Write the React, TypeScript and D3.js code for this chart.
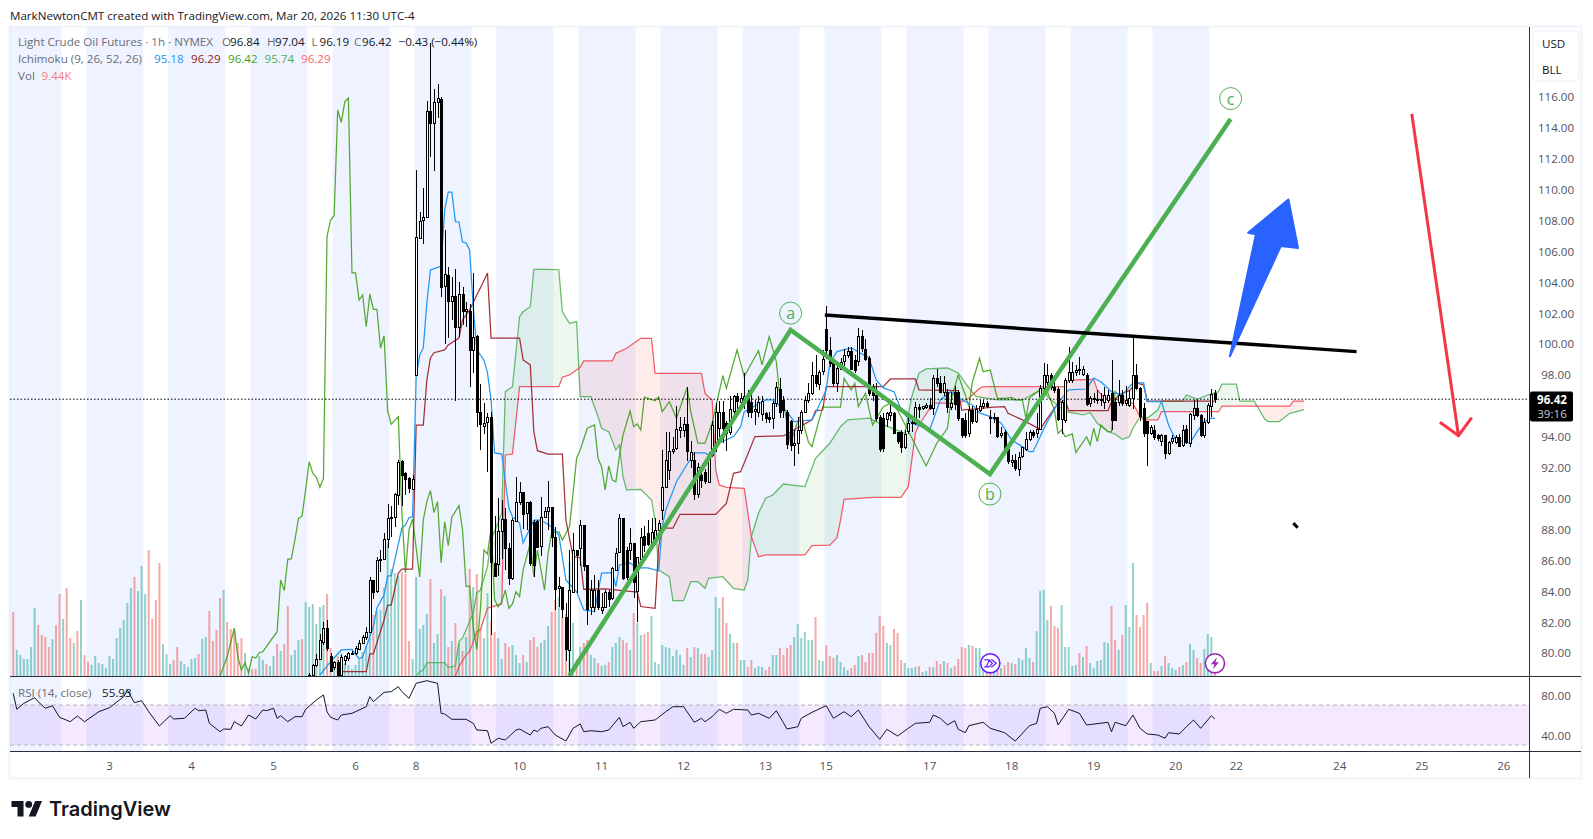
import React from "react";
import * as d3 from "d3";

// ---------- values ----------
const firstCandleBar = 83;
// [open, high, low, close] per hourly bar, starting at bar 83
const candles: number[][] = [
[78.4,78.7,78,78.55],[78.57,79.3,78.5,79.2],[79.2,79.95,79.1,79.6],[79.6,81.2,79.55,80.85],[80.7,82,80.5,81.6],[81.6,82.1,80.1,80.3],[79.8,80,78.8,78.8],[79.07,79.5,78.9,79.4],[79.4,79.55,78.4,78.5],[78.57,79.87,78.4,79.76],
[79.54,79.87,79.2,79.8],[79.63,80.08,79.5,79.97],[80,80.1,79.9,80.02],[80,80.45,79.85,80.3],[80.3,80.84,80.2,80.66],[80.66,81.16,80.6,81.05],[81.05,81.7,80.85,81.38],[81.38,84.94,81.27,84.72],[84.72,84.72,83.5,83.97],[83.97,86.23,83.86,86],
[86,86.66,85.26,86.06],[86.06,87.74,86,87.35],[87.35,89.64,86.77,88.71],[88.71,89.51,87.53,88.78],[88.78,90.33,88.17,90.27],[90.27,92.49,89.58,92.38],[92.42,92.49,89.51,91.52],[91.63,91.73,90.22,91.26],[91.3,91.37,90.33,90.65],[90.59,91.5,90.59,91.24],
[97.99,111.26,97.9,106.94],[106.9,108.56,106.9,107.98],[108.02,110.07,106.47,108.24],[108.24,115.72,108.13,115.07],[115.07,119.5,112.12,114.28],[114.28,116.48,111.2,115.63],[115.63,116.82,114.6,115.9],[115.83,116,103.06,103.66],[103.7,107.4,100,104.5],[104.46,105,100.36,102.8],
[102.8,104.35,101.55,103.1],[103.1,104.83,96.3,101.07],[101.07,104.03,100.47,103.23],[103.23,103.7,101.2,102.15],[102.1,102.73,101.1,102.24],[102.15,102.6,97.2,99.6],[99.6,104.57,98.1,100.47],[100.5,100.6,94.6,95.57],[95.57,97.4,93.13,94.79],[94.73,96.15,94.2,94.9],
[94.9,95.5,91.73,95.24],[95.24,95.57,81.16,85.84],[85.84,88.86,84.9,85],[85.73,90,85,87.89],[87.89,89.9,86.1,88.66],[88.66,89.35,85.36,86.76],[86.76,87.1,84.4,84.82],[84.82,88.7,84.7,88.6],[88.55,91.4,88.5,89.78],[89.78,91.08,89.57,90.43],
[90.43,90.43,88,89.03],[89.03,89.74,87.95,89.74],[89.74,89.8,85.6,85.8],[88.5,88.6,84.93,85.73],[88.53,88.6,86.8,86.87],[86.9,90.1,86.27,88.77],[88.77,89.46,88.7,89.18],[89.18,91.1,87.95,89.46],[89.46,89.46,86.87,87.52],[87.52,88.17,82.77,84.18],
[84.18,84.93,83,84.33],[84.28,84.28,82.23,82.88],[82.3,83.2,79.5,80.2],[80.2,86.66,78.56,84.07],[83.96,87.74,83.9,86.66],[86.66,86.66,83.85,86.33],[86.8,88.6,85.6,88.28],[88.28,88.28,85.27,85.6],[85.7,85.7,81.8,82.88],[83,84.7,82.45,84.1],
[83,85.04,82.66,84.07],[84.1,84.7,82.77,82.98],[82.8,83.85,82.55,82.98],[82.98,84.07,82.95,83.96],[83.96,84.07,82.98,83.53],[83.53,85.58,83.42,85.47],[85.4,86.76,85.36,86.48],[86.48,89,86.44,88.7],[88.7,88.7,84.7,84.82],[86.66,86.87,84.7,84.93],
[86.66,88.06,86,87.13],[87.13,87.13,83.53,84.6],[84,86.18,82,86.18],[86.13,88.07,85.9,87.53],[87.57,88.2,86.5,86.99],[87.79,88.6,86.9,87.1],[87.1,88.7,86.8,87.85],[87.2,88.7,87,87.96],[87.96,88.6,87.8,88.39],[89.25,93.14,88.6,90.76],
[90.76,94.3,90.75,92.49],[91.84,94.3,91.2,93.09],[93.1,94,92.9,93.2],[93.24,96,93.14,94.47],[94.43,95.3,93.9,94.65],[94.43,95.3,94,94.8],[94.8,97.2,92.4,93.03],[92.5,93.7,92,93.03],[92.5,93,89.9,90.33],[90.33,92.3,90,92.06],
[91.5,92,90.7,91.2],[91.7,91.9,90.9,91.1],[91.1,93,91,92.9],[92.8,95,92.7,94.75],[93.35,96.2,93,95.6],[94.54,96.3,94,95.6],[95.6,96.3,93.6,94.54],[94.87,95,93.1,94.2],[94.3,96.6,94.1,95.8],[95.6,96.7,95,96.6],
[96.6,96.8,95.8,96.27],[96.27,96.8,96,96.5],[96.27,98.1,95.8,96.6],[96.8,97,95.3,95.6],[96.27,96.9,95.2,95.6],[95.62,96.4,94.75,95.77],[95.62,96.6,95.3,96.27],[95.5,96.6,95,96.33],[95.55,95.6,94.9,95.25],[95.3,95.6,94.9,95.2],
[95.2,96.3,94.5,96.16],[96.16,97.56,95.9,97.2],[97.1,97.8,95.2,95.62],[96.37,96.6,95.2,95.73],[95.62,95.7,93.2,93.57],[95,95.1,93.1,93.46],[93.46,94.4,92.07,93.57],[93.57,95.3,92.9,94.43],[94.43,95.7,94.2,95.62],[95.62,96.6,95.5,96.37],
[96.37,97.45,96.2,96.84],[96.84,98.85,96.7,97.99],[98,99.28,97.2,97.45],[97.45,98.3,97,98.2],[98.2,99.6,98,99],[100.94,102.45,99,99.6],[99.6,100.47,98.5,98.74],[98.74,98.74,97.3,97.45],[97.45,98.85,96.9,98.42],[98.42,99.06,98.3,98.85],
[98.9,99.7,98.6,99.28],[99.28,99.8,99.1,99.54],[99.54,99.8,98.3,98.37],[98.96,99.3,98.1,98.3],[98.85,101,98.6,100.5],[100.5,100.9,99.5,99.7],[99.7,100.3,98.9,99.06],[99.06,99.2,96.6,96.8],[97.2,97.4,96.3,96.7],[96.7,97.45,95,95.18],
[95.3,95.4,93,93.24],[95.18,95.5,93,93.24],[95.1,95.6,94.65,95.5],[95.4,96.25,95,95.6],[95.55,95.6,94.2,94.28],[94.28,94.3,93.5,93.7],[94.3,94.4,92.96,93.35],[93.35,94.4,93.2,94.2],[94.4,95.3,94.2,94.9],[94.88,95.1,94.3,94.96],
[94.88,96.26,94.75,95.9],[95.94,96.1,95.2,95.83],[95.83,96,95.7,95.98],[95.9,96.2,95.8,96.05],[96.04,96.5,95.7,95.83],[95.83,98,95.4,97.8],[97.8,98.4,97.2,97.5],[97.5,97.9,96.8,96.9],[96.9,97.9,96.6,97.5],[96.9,97.1,95.5,95.9],
[95.9,96.9,95.7,96.15],[96.9,97.3,95.7,96.15],[96.9,97,95,95.2],[95.2,95.2,93.9,94.1],[95.1,95.5,93.9,94.15],[94.2,96,94,95.7],[95.7,96,94.8,95],[95,96.05,94.9,95.77],[95.7,96.4,95.6,95.98],[95.98,96.4,95.8,96.15],
[96.15,96.3,95.83,95.95],[95.25,95.7,94.2,95.2],[95.2,95.5,94.9,95.25],[95.3,95.3,93.9,94.1],[94.1,94.6,93.9,94.25],[94.3,94.4,93,93.1],[93.2,93.3,92.2,92.4],[92.4,92.8,92.05,92.5],[92.5,92.9,91.8,91.95],[91.95,93,91.45,92.7],
[92.7,93.35,92.6,93.3],[93.2,94.3,93.1,93.83],[93.83,94.4,93.7,94.28],[94.3,94.4,93.9,94.1],[94.2,95.5,93.9,94.47],[94.47,97.35,94.4,97.13],[97.13,98.75,97,98],[97.55,98.7,97,98],[98,98.1,97,97.2],[97.2,97.6,96.8,97],
[97.05,97.2,95,95.08],[95.15,96.4,94.2,96.27],[95.08,97.8,94.9,97.67],[97.67,99.78,97.5,98.2],[97.67,98.85,97.5,98.2],[98.2,98.64,97.9,98.3],[98.35,99.18,98,98.27],[98,98.6,97.9,98.35],[98,98.1,96,96.15],[96.15,96.6,95.9,96.48],
[96.45,96.8,96.15,96.5],[96.4,97,96.1,96.45],[96.4,96.8,96,96.43],[96.27,97.2,95.8,96.7],[96.4,97,96.2,96.7],[96.8,98.96,94.43,95.08],[96.27,96.5,95,95.08],[96.27,97.66,96,96.7],[96.7,97,96,96.2],[96.2,97.3,96,96.4],
[96,97,95.9,96.48],[96.48,100.43,95.8,98],[98,98.7,97,97.13],[97.13,97.2,95,95.3],[95.83,96.15,94,94.2],[95,95,92.12,94.2],[94.2,94.75,94.1,94.6],[94.43,94.75,93.8,93.95],[94.1,94.2,93.7,93.9],[93.7,94.2,93.4,94.1],
[94.1,94.1,92.53,92.92],[92.92,93.7,92.8,93.63],[93.7,94.1,93.5,93.9],[93.7,94.1,93.5,94],[94,94.2,93.3,93.4],[93.4,94.75,93.3,94.4],[94.47,94.75,93.5,93.6],[93.6,95.5,93.3,95.45],[95.4,96.4,95.1,95.83],[95.83,96.4,95.3,95.4],
[95.4,95.45,94,94.1],[94.1,95.2,93.9,94.97],[94.97,96.15,94.8,96.05],[96,97.06,95.3,96.76],[96.84,97.04,96.19,96.42],
];

const volumes: number[] = [
64,26,21,17,17,29,68,51,41,39, 29,37,51,82,57,88,38,33,45,76, 21,14,11,20,13,12,8,20,17,38, 48,56,73,88,99,85,110,82,126,57,
76,113,32,22,12,16,29,15,12,9, 17,18,22,37,39,65,35,46,78,86, 54,47,45,33,38,23,8,7,7,20, 16,12,10,20,32,25,32,70,21,26,
36,37,74,69,72,52,69,71,82,28, 14,20,23,13,11,7,11,16,24,30, 46,61,65,66,88,133,107,103,100,104, 102,35,17,99,47,51,62,97,33,42,
87,80,29,35,53,33,25,39,107,89, 102,47,38,83,55,44,38,17,33,29, 31,21,13,21,14,36,39,29,33,36, 50,64,76,79,59,62,114,53,17,29,
33,36,21,18,13,10,11,14,29,33, 39,36,33,26,63,53,41,42,44,60, 14,12,31,29,28,20,26,21,11,28, 19,29,28,22,22,19,26,79,68,79,
53,42,33,33,16,16,9,16,8,10, 9,6,9,21,21,28,21,28,31,39, 52,38,44,36,36,59,16,15,31,20, 18,21,14,9,6,8,11,20,21,14,
23,23,43,60,50,33,31,47,43,16, 13,8,8,9,10,4,5,9,9,15, 12,15,13,8,10,17,29,28,31,30, 28,28,9,6,4,3,6,8,11,14,
13,12,18,16,28,18,14,45,85,86, 56,70,50,48,71,29,29,10,11,23, 19,30,13,8,15,16,34,33,70,36, 26,41,71,49,113,61,49,61,73,13,
5,5,10,20,13,8,6,9,11,14, 32,26,18,13,27,42,39,9.44,
];
// 1 = rising bar, for the bars whose candle lies below the pane
const earlyVolumeRising = "0111111000"+"0100100101"+"0011111111"+"1111011100"+"0011100111"+"1101100001"+"0000011001"+"1011010011"+"101";

const conversionLine: [number, number][] = [[86,78.57],[89,79.43],[92,80.19],[95,80.23],[97,79.61],[98,79.74],[101,81.7],[102,82.91],[104,83.75],[105,84.98],[106,84.98],[109,88.08],[110,88.28],[111,88.75],[112,88.8],[113,97.88],[114,99.28],[115,99.74],[116,102.65],[117,104.78],[120,105.04],[121,108.67],[122,109.83],[123,109.83],[124,107.91],[125,107.89],[126,106.6],[127,106.53],[128,106.08],[129,102.41],[130,99.61],[132,98.96],[133,98.12],[134,96.4],[135,92.94],[137,92.87],[139,89.38],[140,88.82],[142,88.41],[143,87.11],[146,88.6],[148,88.6],[151,88.17],[153,87.63],[155,84.72],[158,83.96],[160,82.78],[163,82.67],[165,85.17],[168,85.19],[169,84.29],[170,85.69],[173,85.82],[175,85.5],[178,85.5],[181,85.3],[182,88.17],[183,89.25],[186,91.08],[188,91.84],[191,92.94],[194,92.94],[196,92.7],[198,93.59],[202,94],[204,94.64],[205,95.61],[211,96.37],[213,96.37],[217,95.61],[219,94.97],[224,95.08],[225,95.53],[228,97.02],[229,98.76],[231,99.5],[235,99.74],[240,99.09],[242,97.66],[244,97.15],[247,96.91],[249,95.72],[252,94.88],[257,94.43],[260,96.37],[263,96.91],[266,96.37],[269,96.05],[271,95.53],[274,95.29],[277,94.88],[280,93.78],[283,93.35],[285,93.02],[286,93.02],[288,94],[290,94.97],[293,96.18],[296,97.02],[301,97.08],[303,97.79],[305,97.55],[308,96.91],[311,96.69],[314,97.47],[317,97.47],[318,96.26],[322,96.26],[324,94.75],[326,93.78],[330,93.59],[332,94.32],[334,94.97],[336,95.2],[337,95.18]];

const baseLine: [number, number][] = [[91,78.78],[99,78.78],[100,79.93],[101,79.93],[104,82.13],[105,83.1],[106,83.1],[108,85.17],[109,85.43],[112,85.43],[113,94.75],[115,94.75],[116,97.66],[117,99.09],[118,99.43],[121,99.61],[122,99.93],[125,100.38],[126,101.55],[128,102.2],[130,103.17],[131,103.62],[133,104.59],[134,100.38],[142,100.38],[143,98.96],[145,98.64],[146,94.32],[147,93.09],[150,92.87],[154,92.87],[155,88.6],[157,86.23],[159,86.16],[160,84.12],[166,84.14],[175,83.94],[176,83],[180,82.89],[181,86.87],[182,88.07],[185,88.07],[187,88.97],[197,88.97],[200,89.68],[202,91.62],[204,91.73],[208,94],[216,94.04],[224,95.08],[225,95.68],[227,95.72],[228,97.23],[244,97.23],[246,97.73],[253,97.73],[254,97.02],[265,96.97],[266,95.72],[275,95.9],[278,95.94],[279,95.51],[283,95.08],[288,94.47],[290,95.18],[293,96.16],[295,96.37],[296,95.68],[307,95.68],[308,96.26],[311,96.82],[313,96.97],[315,97.47],[317,97.34],[318,96.3],[337,96.29]];

const laggingLine: [number, number][] = [[58,78.51],[60,79.75],[62,81.61],[63,79.75],[64,78.89],[65,79.37],[66,78.7],[67,79.75],[68,79.67],[69,80.01],[70,80.08],[74,81.37],[75,84.72],[76,84.03],[77,86.06],[78,86.1],[79,87.31],[80,88.71],[81,88.86],[82,90.55],[83,92.38],[84,91.63],[85,91.37],[86,90.72],[87,91.3],[88,106.94],[89,108.02],[90,108.3],[91,115.14],[92,114.34],[93,115.68],[94,115.9],[95,104.6],[96,104.6],[97,102.84],[98,103.17],[99,101.11],[100,103.23],[101,102.24],[102,102.24],[103,99.72],[104,100.53],[105,95.66],[106,94.8],[108,95.29],[109,89.06],[110,85.17],[111,87.96],[112,88.67],[114,84.91],[115,88.6],[116,89.79],[117,90.5],[118,89.08],[119,89.79],[120,85.84],[121,88.49],[122,86.94],[123,88.78],[125,89.53],[126,87.96],[127,84.29],[128,84.33],[129,81.7],[130,80.23],[131,82.78],[132,86.66],[133,86.4],[134,88.07],[135,83.43],[136,82.99],[137,83.31],[138,84.07],[139,82.89],[140,83.17],[141,83.96],[142,83.64],[143,85.37],[145,87.11],[146,84.93],[147,86.66],[149,84.07],[150,86.47],[151,87.76],[153,87.85],[154,87.31],[156,88.17],[157,90.33],[158,92.6],[159,93.13],[161,94.54],[163,94.75],[164,92.6],[165,92.05],[166,90.55],[167,92.1],[168,91.19],[169,91.08],[170,92.75],[171,94.1],[173,95.66],[174,94.64],[175,94.82],[176,94.43],[177,96.56],[180,96.32],[181,96.58],[182,95.61],[184,96.26],[186,95.19],[189,97.19],[190,95.61],[192,93.57],[194,93.57],[196,94.86],[199,97.94],[200,97.13],[203,99.61],[205,97.88],[206,98.31],[209,99.56],[210,98.64],[212,100.47],[214,98.85],[215,96.58],[216,96.16],[218,93.57],[220,94.97],[221,95.4],[223,93.65],[224,93.35],[226,95.08],[227,95.9],[232,95.9],[233,97.77],[235,97.02],[236,97.45],[237,95.94],[239,96.8],[241,94.75],[244,95.94],[246,96.16],[248,95.72],[256,92.1],[259,93.57],[262,94.54],[263,96.37],[265,97.99],[267,96.69],[268,95.94],[269,97.55],[271,99.07],[272,98.2],[274,98.31],[276,96.48],[278,96.48],[280,96.54],[281,96.37],[283,96.37],[284,95.19],[285,96.48],[286,96.69],[288,97.02],[290,96.91],[292,95.72],[293,94.21],[294,94.43],[295,93.99],[297,94.17],[298,92.96],[301,93.99],[302,93.46],[303,94.54],[304,93.67],[305,94.75],[307,94.32],[308,94.32],[309,96.91],[311,96.42]];

const leadA: [number, number][] = [[113,78.53],[114,78.78],[115,78.89],[116,79.37],[121,79.37],[122,79.07],[124,79.15],[125,80.73],[126,80.97],[129,82.58],[130,83.88],[131,84.07],[133,85.58],[134,87.31],[137,89.06],[138,96.91],[140,97.23],[142,101.76],[143,102.08],[145,102.41],[146,104.83],[150,104.83],[153,104.8],[154,102.08],[156,101.33],[158,101.44],[159,96.58],[162,96.58],[164,95.29],[165,94.54],[167,94.32],[169,93.13],[170,93.46],[171,91.41],[172,90.55],[176,90.59],[179,89.9],[180,88.6],[181,85.37],[184,84.93],[185,83.38],[188,83.38],[190,84.61],[192,84.61],[194,84.18],[195,84.83],[199,84.93],[202,84.18],[205,84.07],[206,84.72],[207,87.52],[209,89.04],[211,90.01],[213,90.22],[216,90.93],[222,90.76],[225,92.6],[229,93.57],[232,94.64],[234,95.08],[240,95.19],[242,94.97],[250,94.21],[252,96.58],[254,98.1],[256,98.38],[262,98.44],[265,98.12],[268,97.15],[270,96.6],[276,96.37],[283,96.37],[285,96.63],[289,97.15],[290,96.58],[295,95.61],[298,95.51],[300,95.4],[302,95.55],[304,94.86],[307,94.32],[309,94.17],[311,93.83],[313,93.99],[314,94.54],[316,95.29],[318,95.19],[321,95.72],[322,96.3],[328,96.3],[329,96.69],[332,96.41],[335,96.69],[338,96.91],[339,97.4],[343,97.4],[344,96.3],[348,96.3],[351,95.12],[352,94.97],[355,94.97],[358,95.51],[361,95.68],[362,95.74]];

const leadB: [number, number][] = [[113,76],[124,78.46],[125,79.11],[127,79.87],[128,80.08],[130,81.37],[131,81.48],[133,82.89],[137,83.17],[138,92.81],[140,92.87],[142,97.23],[153,97.23],[154,97.84],[156,97.99],[159,98.49],[160,98.9],[168,98.9],[169,99.39],[172,99.72],[176,100.36],[179,100.36],[180,98.1],[193,98.1],[194,96.8],[196,96.37],[197,91.84],[198,90.87],[200,90.72],[205,90.65],[207,87.52],[209,86.23],[211,86.34],[222,86.34],[224,86.94],[229,86.98],[231,87.46],[232,88.6],[233,89.94],[241,90.07],[249,90.07],[251,90.76],[253,94.24],[254,94.75],[258,96.16],[265,96.16],[268,96.48],[271,97.13],[272,97.23],[295,97.23],[296,97.66],[303,97.71],[304,97.02],[306,96.5],[308,96.48],[314,96.16],[316,95.29],[317,95.08],[321,95.08],[322,95.61],[338,95.61],[339,95.98],[358,95.98],[359,96.3],[362,96.29]];

const rsiLine: [number, number][] = [[0,81.7],[1,65.7],[3,71.7],[6,77.3],[7,73.3],[9,66.7],[11,69.3],[13,57.7],[16,53.3],[18,59],[20,53.3],[24,63.3],[27,67.3],[31,78.3],[32,85],[34,72.3],[36,74.3],[38,63.3],[41,49],[44,59.3],[45,56],[48,56.7],[51,66.7],[52,64.3],[54,65],[55,51.7],[58,43.3],[59,46],[61,45.7],[62,53.3],[64,49],[66,60],[68,56],[70,65],[71,64.3],[73,66.7],[74,56.7],[75,59.3],[77,53.3],[79,58.3],[81,58.3],[82,65.7],[85,75],[87,80],[88,63.3],[89,57.7],[91,55],[92,60],[95,61.7],[99,68.3],[100,78.3],[101,73.3],[104,82.7],[106,83.3],[108,88.3],[109,83.3],[111,76.7],[113,91.7],[116,94.3],[119,91.7],[120,61.7],[121,61],[123,55.7],[127,55.7],[129,51.7],[130,45],[133,44.3],[134,31.7],[136,36.7],[138,35],[141,45],[142,46],[145,40],[146,45],[147,43.3],[148,46.7],[150,48.3],[152,40],[155,34],[157,46.7],[159,51],[160,43.3],[162,44.3],[165,43.3],[167,45],[170,57.7],[171,48.3],[173,52.7],[174,46.7],[176,53.3],[180,55],[183,63.3],[185,68.3],[188,68.3],[191,52.7],[193,56.7],[194,53.3],[196,58.3],[198,65.7],[200,61.7],[202,65.7],[206,65],[207,60],[209,61.7],[212,56.7],[214,64.3],[217,46],[220,48.3],[221,56.7],[224,62.7],[228,69.3],[230,56.7],[233,63.3],[235,58.3],[237,65],[240,48.3],[243,35.7],[245,45.7],[248,39],[251,46.7],[253,51.7],[257,52.7],[258,60],[260,56.7],[262,50],[264,54.3],[265,45.7],[267,42.3],[268,49.3],[272,52.7],[274,46.7],[278,42.3],[281,34],[285,49.3],[287,51.7],[288,66.7],[290,68.3],[292,61.7],[293,50],[296,65.7],[299,61.7],[301,50],[307,52.7],[308,43.3],[309,52.7],[312,49.3],[314,60],[316,46.7],[318,41],[321,40],[323,36.7],[324,42.3],[327,41],[329,48.3],[331,55],[333,46.7],[336,59.3],[337,55.93]];

const sessionStarts = [-2,21,44,67,90,113,136,159,182,205,228,251,274,297,320];
const sessionBars = 16;
const dayBars = [27,50,73,96,113,142,165,188,211,228,257,280,303,326,343,372,395,418];
const dayLabels = ["3","4","5","6","8","10","11","12","13","15","17","18","19","20","22","24","25","26"];
const priceTicks = d3.range(80, 117, 2).filter((p) => p !== 96);
const rsiTicks = [80, 40];
const lastPrice = 96.42;

// drawings, in [bar, price]
const waveLine: [number, number][] = [[155.9,78.5],[218,100.9],[273.9,91.58],[341.4,114.56]];
const waveLabels: [string, number, number][] = [["a",218,101.99],["b",273.9,90.28],["c",341.4,115.88]];
const resistanceLine: [number, number][] = [[227.6,101.87],[376.7,99.5]];
const blueArrow: [number, number][] = [[341.2,99.2],[348.5,107.1],[346.3,107.2],[357.6,109.35],[360.3,106.2],[355.5,106.34]];
const redArrow: [number, number][] = [[392.2,114.89],[405.3,94.06]];
const redArrowHead: [number, number][] = [[400.1,94.93],[405.3,94.06],[409,95.23]];
const blackTick: [number, number][] = [[359,88.4],[360.2,88.1]];

// ---------- scales ----------
const W = 1593, H = 839;
const paneL = 10, axisX = 1529, rightX = 1581;
const priceTop = 27, priceBottom = 676, rsiBottom = 751, bottomEdge = 778;
const x = d3.scaleLinear().domain([0, 337]).range([13.2, 13.2 + 337 * 3.566]);
const y = d3.scaleLinear().domain([116, 80]).range([96.7, 652.9]);
const yVol = d3.scaleLinear().domain([0, 649]).range([priceBottom, priceTop]);
const yRsi = d3.scaleLinear().domain([80, 40]).range([695, 735]);
const pl = d3.line<[number, number]>().x((d) => x(d[0])).y((d) => y(d[1]));
const rl = d3.line<[number, number]>().x((d) => x(d[0])).y((d) => yRsi(d[1]));

const cloud = pl(leadA)! + "L" + pl([...leadB].reverse())!.slice(1) + "Z";
const belowB = pl(leadB)! + `L${x(362)},${priceBottom + 50}L${x(113)},${priceBottom + 50}Z`;
const aboveB = pl(leadB)! + `L${x(362)},0L${x(113)},0Z`;

const font = "'Open Sans','Noto Sans',sans-serif";
const gray = "#6a6d78";
const axisText = "#50535e";

type T = { x: number; y: number; c: string; t: string; w?: number; a?: string };
const Txt = ({ x: px, y: py, c, t, w, a }: T) => (
  <text x={px} y={py} fill={c} fontSize={11.6} fontWeight={w ?? 400} textAnchor={(a as any) ?? "start"} dominantBaseline="central" fontFamily={font}>{t}</text>
);

const col = (o: number, cl: number) => cl >= o;

export default function App() {
  return (
    <svg width={W} height={H} viewBox={`0 0 ${W} ${H}`} style={{ position: "fixed", left: 0, top: 0, background: "#fff" }}>
      <defs>
        <clipPath id="pricePane"><rect x={paneL} y={priceTop} width={axisX - paneL} height={priceBottom - priceTop} /></clipPath>
        <clipPath id="rsiPane"><rect x={paneL} y={priceBottom} width={axisX - paneL} height={rsiBottom - priceBottom} /></clipPath>
        <clipPath id="aboveB"><path d={aboveB} /></clipPath>
        <clipPath id="belowB"><path d={belowB} /></clipPath>
      </defs>

      <Txt x={10} y={15} c="#131722" t="MarkNewtonCMT created with TradingView.com, Mar 20, 2026 11:30 UTC-4" />
      <rect x={9.5} y={26.5} width={rightX - 9} height={bottomEdge - 26} fill="none" stroke="#f0f3fa" strokeWidth={2} />

      {/* session bands */}
      {sessionStarts.map((s) => {
        const a = Math.max(paneL, x(s - 0.5));
        const b = x(s + sessionBars - 0.5);
        return <rect key={s} x={a} y={priceTop} width={b - a} height={rsiBottom - priceTop} fill="#2962ff" fillOpacity={0.08} />;
      })}

      <g clipPath="url(#pricePane)">
        {/* volume */}
        {volumes.map((v, i) => {
          const rising = i < firstCandleBar ? earlyVolumeRising[i] === "1" : col(candles[i - firstCandleBar][0], candles[i - firstCandleBar][3]);
          return <rect key={i} x={x(i) - 1} y={yVol(v)} width={2} height={priceBottom - yVol(v)} fill={rising ? "#26a69a" : "#ef5350"} fillOpacity={0.5} />;
        })}

        {/* cloud */}
        <g clipPath="url(#aboveB)"><path d={cloud} fill="#4caf50" fillOpacity={0.1} fillRule="evenodd" /></g>
        <g clipPath="url(#belowB)"><path d={cloud} fill="#f44336" fillOpacity={0.1} fillRule="evenodd" /></g>
        <path d={pl(leadA)!} fill="none" stroke="#4caf50" strokeOpacity={0.85} strokeWidth={1.25} />
        <path d={pl(leadB)!} fill="none" stroke="#f23645" strokeOpacity={0.8} strokeWidth={1.25} />
        <path d={pl(laggingLine)!} fill="none" stroke="#43a01c" strokeOpacity={0.9} strokeWidth={1.25} />
        <path d={pl(baseLine)!} fill="none" stroke="#9c1c22" strokeOpacity={0.9} strokeWidth={1.25} />
        <path d={pl(conversionLine)!} fill="none" stroke="#2196f3" strokeWidth={1.25} />
        <line x1={paneL} x2={axisX} y1={y(lastPrice)} y2={y(lastPrice)} stroke="#000" strokeDasharray="1.5 2" />

        {/* candles */}
        {candles.map((c, k) => {
          const i = k + firstCandleBar;
          const cx = Math.round(x(i));
          const up = c[3] >= c[0];
          const top = y(Math.max(c[0], c[3]));
          const bot = y(Math.min(c[0], c[3]));
          return (
            <g key={i} shapeRendering="crispEdges">
              <line x1={cx + 0.5} x2={cx + 0.5} y1={y(c[1])} y2={y(c[2])} stroke="#000" />
              <rect x={cx - 0.5} y={Math.round(top) + 0.5} width={2} height={Math.max(1, Math.round(bot - top))} fill={up ? "#fff" : "#000"} stroke="#000" />
            </g>
          );
        })}

        {/* drawings */}
        <path d={pl(waveLine)!} fill="none" stroke="#4caf50" strokeWidth={4.5} />
        {waveLabels.map(([t, b, p]) => (
          <g key={t}>
            <circle cx={x(b)} cy={y(p)} r={11} fill="#fff" fillOpacity={0} stroke="#4caf50" />
            <text x={x(b)} y={y(p)} textAnchor="middle" dominantBaseline="central" fontSize={16} fill="#4caf50" fontFamily={font}>{t}</text>
          </g>
        ))}
        <path d={pl(resistanceLine)!} fill="none" stroke="#000" strokeWidth={3.4} />
        <path d={pl(blueArrow)! + "Z"} fill="#2962ff" stroke="#2962ff" strokeWidth={2} strokeLinejoin="round" />
        <path d={pl(redArrow)!} fill="none" stroke="#f23645" strokeWidth={3} />
        <path d={pl(redArrowHead)!} fill="none" stroke="#f23645" strokeWidth={3} />
        <path d={pl(blackTick)!} fill="none" stroke="#000" strokeWidth={3} />

        {/* event icons */}
        <g transform={`translate(${x(274)},663.3)`}>
          <circle r={9.6} fill="#fff" stroke="#651fff" strokeWidth={1.6} />
          <path d="M-6,-3.5 L-1,-3.5 L2,0 L-1,3.5 L-6,3.5 M1,-4 L6,0 L1,4 M-4,4 L-1,-3" fill="none" stroke="#651fff" strokeWidth={1.2} />
        </g>
        <g transform={`translate(${x(337)},663.3)`}>
          <circle r={9.6} fill="#fff" stroke="#9c27b0" strokeWidth={1.6} />
          <path d="M2,-6 L-4,1 L-0.5,1 L-2,6 L4,-1 L0.5,-1 Z" fill="#9c27b0" />
        </g>
      </g>

      {/* RSI pane */}
      <rect x={paneL} y={yRsi(70)} width={axisX - paneL} height={yRsi(30) - yRsi(70)} fill="#9c27ff" fillOpacity={0.1} />
      {[70, 30].map((r) => (
        <line key={r} x1={paneL} x2={axisX} y1={yRsi(r)} y2={yRsi(r)} stroke="#b2b5be" strokeDasharray="4 3" />
      ))}
      <g clipPath="url(#rsiPane)">
        <path d={rl(rsiLine)!} fill="none" stroke="#131722" strokeWidth={1} />
      </g>

      {/* frame lines */}
      <line x1={paneL} x2={rightX} y1={priceBottom + 0.5} y2={priceBottom + 0.5} stroke="#2a2e39" />
      <line x1={paneL} x2={rightX} y1={rsiBottom + 0.5} y2={rsiBottom + 0.5} stroke="#2a2e39" />
      <line x1={axisX + 0.5} x2={axisX + 0.5} y1={priceTop} y2={bottomEdge} stroke="#2a2e39" />

      {/* legend */}
      <Txt x={18} y={41.7} c={gray} t="Light Crude Oil Futures · 1h · NYMEX" />
      {[["O","96.84",222],["H","97.04",267],["L","96.19",311.5],["C","96.42",354]].map(([l, v, px]) => (
        <g key={l as string}>
          <Txt x={px as number} y={41.7} c={gray} t={l as string} />
          <Txt x={(px as number) + 8} y={41.7} c="#131722" t={v as string} />
        </g>
      ))}
      <Txt x={398.6} y={41.7} c="#131722" t="−0.43 (−0.44%)" />
      <Txt x={18} y={58.7} c={gray} t="Ichimoku (9, 26, 52, 26)" />
      <Txt x={154} y={58.7} c="#2196f3" t="95.18" />
      <Txt x={191} y={58.7} c="#9c1c22" t="96.29" />
      <Txt x={228} y={58.7} c="#43a01c" t="96.42" />
      <Txt x={264.5} y={58.7} c="#4caf50" t="95.74" />
      <Txt x={301} y={58.7} c="#f9686b" t="96.29" />
      <Txt x={18} y={75.7} c={gray} t="Vol" />
      <Txt x={41.5} y={75.7} c="#f77c80" t="9.44K" />
      <Txt x={18} y={692} c={gray} t="RSI (14, close)" />
      <Txt x={102} y={692} c="#131722" t="55.93" />

      {/* price axis */}
      {priceTicks.map((p) => <Txt key={p} x={1556} y={y(p)} c={axisText} a="middle" t={p.toFixed(2)} />)}
      {rsiTicks.map((r) => <Txt key={r} x={1556} y={yRsi(r)} c={axisText} a="middle" t={r.toFixed(2)} />)}
      <rect x={1533} y={31} width={46} height={50} rx={4} fill="#fff" stroke="#f0f3fa" strokeWidth={1.5} />
      <Txt x={1542} y={43.5} c="#131722" t="USD" />
      <Txt x={1542} y={69.5} c="#131722" t="BLL" />
      <rect x={1530} y={391.5} width={43} height={30} rx={2} fill="#000" />
      <Txt x={1552} y={399.5} c="#fff" w={700} a="middle" t="96.42" />
      <Txt x={1552} y={413.5} c="#c8c8c8" a="middle" t="39:16" />

      {/* time axis */}
      {dayBars.map((b, i) => <Txt key={b} x={x(b)} y={765} c={axisText} a="middle" t={dayLabels[i]} />)}

      {/* logo */}
      <g transform="translate(11.5,797.5) scale(0.86)" fill="#131722">
        <path d="M14 22H7V11H0V4h14v18zM28 22h-8l7.5-18h8L28 22z" />
        <circle cx={20} cy={8} r={4} />
      </g>
      <text x={49} y={809} fontFamily="Inter, sans-serif" fontWeight={600} fontSize={20} fill="#131722" dominantBaseline="central">TradingView</text>
    </svg>
  );
}
